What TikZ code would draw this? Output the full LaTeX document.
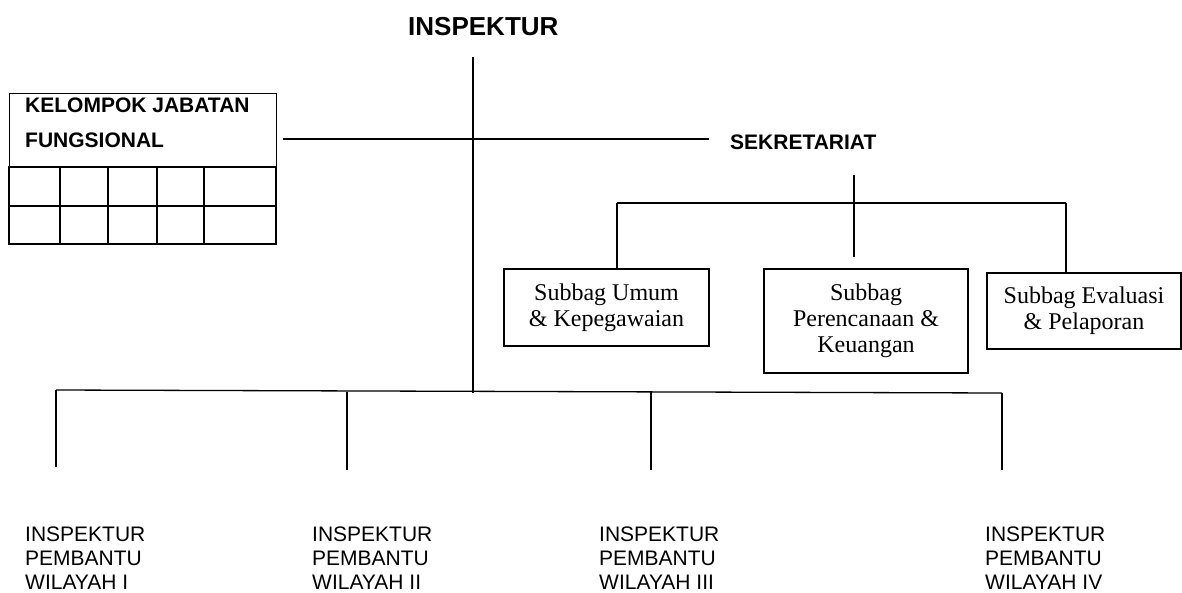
\documentclass[tikz,border=0pt]{standalone}
\usepackage{fontspec}
\setmainfont{Liberation Serif}
\newfontfamily\arialf{Liberation Sans}
\begin{document}
\begin{tikzpicture}[x=1pt,y=-1pt,
  ln/.style={line width=1.3pt, draw=black},
  subbox/.style={draw=black, line width=1.5pt, align=center, inner sep=0pt,
    font=\fontsize{24}{26}\selectfont},
  boldlbl/.style={inner sep=0pt, font=\arialf\bfseries\fontsize{21}{35}\selectfont, align=left},
  wlbl/.style={inner sep=0pt, anchor=north west, align=left, font=\arialf\fontsize{21}{24}\selectfont}]
\useasboundingbox[fill=white] (0,0) rectangle (1182,592);

% title
\node[inner sep=0pt, anchor=base west, font=\arialf\bfseries\fontsize{26}{30}\selectfont] (insp) at (408,35) {INSPEKTUR};

% main spine
\coordinate (spT) at (473,57);
\coordinate (spB) at (473,393);
\draw[ln] (spT) -- (spB);

% kelompok jabatan fungsional
\node[draw=black, line width=1.3pt, anchor=north west, minimum width=267pt, minimum height=74pt, inner sep=0pt] (kjf) at (9,93) {};
\node[boldlbl, anchor=north west] (kjft) at (25,98) {KELOMPOK JABATAN\\FUNGSIONAL};
\draw[ln] (9,167) rectangle (276,244);
\draw[ln] (9,206) -- (276,206);
\foreach \gx in {60,108,157,204} \draw[ln] (\gx,167) -- (\gx,244);

% sekretariat
\node[inner sep=0pt, anchor=base west, font=\arialf\bfseries\fontsize{21}{24}\selectfont] (sek) at (730,149) {SEKRETARIAT};
\coordinate (hL) at (283,139);
\coordinate (hR) at (709,139);
\draw[ln] (hL) -- (hR);

\coordinate (skT) at (854,175);
\coordinate (skB) at (854,257);
\draw[ln] (skT) -- (skB);
\coordinate (sbL) at (617,203);
\coordinate (sbR) at (1066,203);
\draw[ln] (sbL) -- (sbR);

\node[subbox, minimum width=205pt, minimum height=77pt] (umum) at (606.5,307.5) {Subbag Umum\\\& Kepegawaian};
\node[subbox, minimum width=204pt, minimum height=104pt] (renc) at (866,321) {Subbag\\Perencanaan \&\\Keuangan};
\node[subbox, minimum width=194pt, minimum height=76pt] (eval) at (1084,311) {Subbag Evaluasi\\\& Pelaporan};

\draw[ln] (sbL) -- (sbL |- umum.north);
\draw[ln] (sbR) -- (sbR |- eval.north);

% bottom bar
\coordinate (b1) at (56,390);
\coordinate (b2) at (347,392);
\coordinate (b3) at (651,392);
\coordinate (b4) at (1002,393);
\draw[ln] (b1) -- (b4);
\coordinate (d1) at (56,467);
\coordinate (d2) at (347,470);
\coordinate (d3) at (651,470);
\coordinate (d4) at (1002,470);
\draw[ln] (b1) -- (d1);
\draw[ln] (b2) -- (d2);
\draw[ln] (b3) -- (d3);
\draw[ln] (b4) -- (d4);

\node[wlbl] (w1) at (25,527) {INSPEKTUR\\PEMBANTU\\WILAYAH I};
\node[wlbl] (w2) at (312,527) {INSPEKTUR\\PEMBANTU\\WILAYAH II};
\node[wlbl] (w3) at (599,527) {INSPEKTUR\\PEMBANTU\\WILAYAH III};
\node[wlbl] (w4) at (985,527) {INSPEKTUR\\PEMBANTU\\WILAYAH IV};
\end{tikzpicture}
\end{document}
